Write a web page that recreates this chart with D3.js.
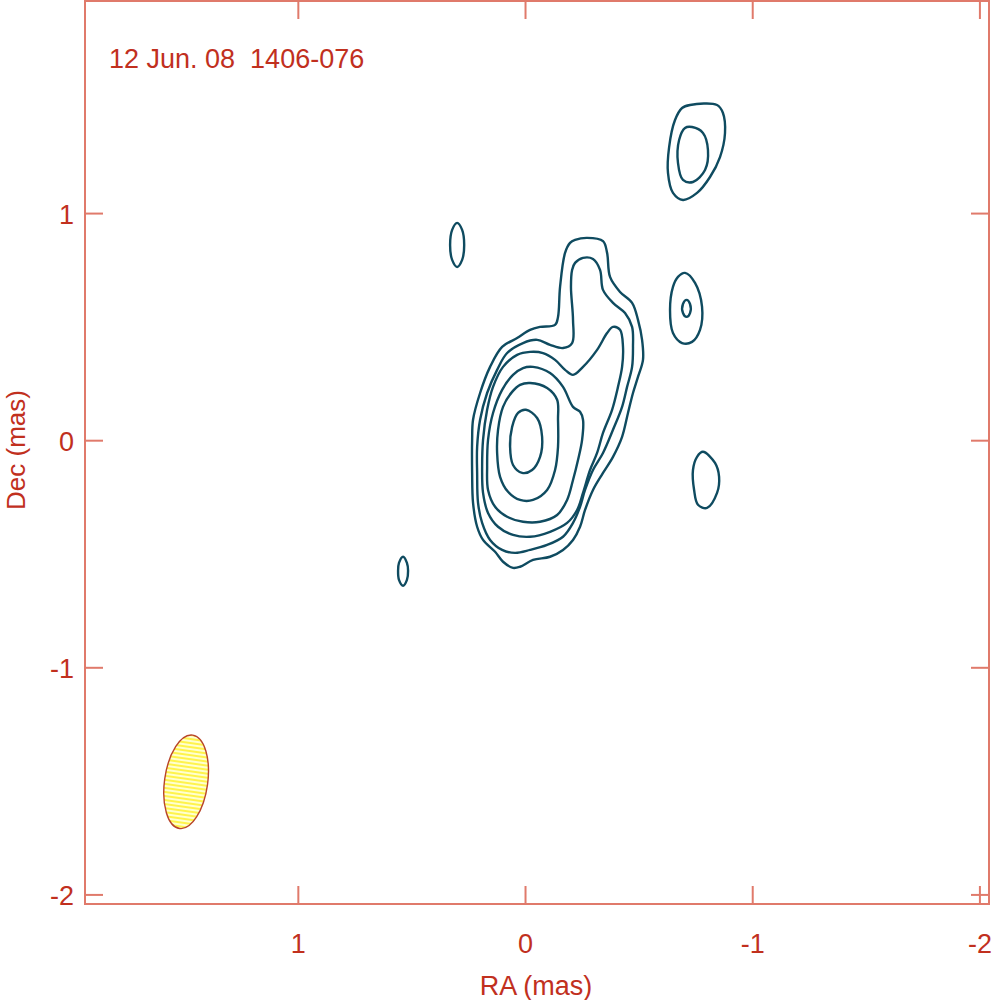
<!DOCTYPE html>
<html>
<head>
<meta charset="utf-8">
<script src="https://cdn.jsdelivr.net/npm/d3@7"></script>
<style>
  body { margin: 0; background: #fff; }
  svg text { font-family: "Liberation Sans", Arial, sans-serif; fill: #c1301e; }
</style>
</head>
<body>
<div id="chart"></div>
<script>
// map title + axes
var title = "12 Jun. 08  1406-076";
var xTicks = [1, 0, -1, -2];
var yTicks = [1, 0, -1, -2];
var xDomain = [1.939, -2.040];   // RA (mas), east to the left
var yDomain = [1.936, -2.040];   // Dec (mas)

// restoring beam: centre RA, Dec, major, minor (mas), PA (deg)
var beam = {ra: 1.494, dec: -1.502, major: 0.415, minor: 0.19, pa: -8};

// contour rings, [RA, Dec] in mas
var core = [
  // lowest level, with the northern extension
  [[-0.218,0.884],[-0.271,0.893],[-0.341,0.879],[-0.359,0.827],[-0.372,0.721],[-0.416,0.655],[-0.469,0.607],
   [-0.495,0.532],[-0.513,0.444],[-0.517,0.356],[-0.495,0.281],[-0.473,0.210],[-0.451,0.122],[-0.425,0.017],
   [-0.385,-0.071],[-0.341,-0.142],[-0.297,-0.217],[-0.262,-0.305],[-0.240,-0.379],[-0.209,-0.437],
   [-0.165,-0.481],[-0.108,-0.511],[-0.033,-0.525],[0.024,-0.555],[0.055,-0.560],[0.099,-0.533],
   [0.134,-0.489],[0.187,-0.437],[0.213,-0.379],[0.231,-0.274],[0.235,-0.142],[0.235,0.004],[0.231,0.092],
   [0.200,0.210],[0.156,0.325],[0.103,0.413],[0.037,0.452],[-0.020,0.488],[-0.064,0.501],[-0.130,0.510],
   [-0.143,0.545],[-0.152,0.677],[-0.174,0.827],[-0.196,0.871]],
  [[-0.218,0.783],[-0.253,0.805],[-0.297,0.800],[-0.328,0.752],[-0.341,0.664],[-0.385,0.607],[-0.438,0.562],
   [-0.469,0.501],[-0.473,0.413],[-0.469,0.325],[-0.447,0.237],[-0.425,0.149],[-0.385,0.048],[-0.341,-0.054],
   [-0.297,-0.129],[-0.262,-0.217],[-0.240,-0.291],[-0.209,-0.362],[-0.165,-0.423],[-0.095,-0.459],
   [-0.020,-0.481],[0.046,-0.494],[0.103,-0.481],[0.156,-0.437],[0.191,-0.362],[0.209,-0.274],[0.213,-0.142],
   [0.213,-0.027],[0.200,0.092],[0.169,0.210],[0.125,0.312],[0.081,0.386],[0.011,0.430],[-0.051,0.444],
   [-0.108,0.422],[-0.165,0.408],[-0.205,0.430],[-0.209,0.532],[-0.200,0.677],[-0.205,0.752]],
  [[-0.385,0.501],[-0.416,0.488],[-0.429,0.413],[-0.425,0.325],[-0.407,0.237],[-0.381,0.136],[-0.341,0.034],
   [-0.315,-0.054],[-0.284,-0.129],[-0.253,-0.230],[-0.227,-0.305],[-0.183,-0.362],[-0.108,-0.401],
   [-0.020,-0.423],[0.055,-0.415],[0.121,-0.379],[0.165,-0.318],[0.187,-0.230],[0.191,-0.115],[0.187,0.004],
   [0.169,0.136],[0.143,0.237],[0.099,0.325],[0.037,0.378],[-0.020,0.391],[-0.077,0.386],[-0.130,0.356],
   [-0.174,0.312],[-0.209,0.290],[-0.253,0.325],[-0.315,0.400],[-0.359,0.474]],
  [[-0.033,0.325],[-0.108,0.298],[-0.165,0.237],[-0.209,0.149],[-0.240,0.127],[-0.253,0.092],[-0.249,0.004],
   [-0.231,-0.085],[-0.209,-0.173],[-0.183,-0.261],[-0.139,-0.327],[-0.064,-0.357],[0.011,-0.357],
   [0.081,-0.335],[0.134,-0.291],[0.165,-0.217],[0.169,-0.115],[0.165,0.004],[0.143,0.122],[0.103,0.224],
   [0.055,0.290],[0.011,0.320]],
  [[-0.020,0.254],[-0.095,0.232],[-0.139,0.180],[-0.143,0.092],[-0.143,-0.027],[-0.130,-0.129],[-0.095,-0.217],
   [-0.033,-0.261],[0.024,-0.261],[0.077,-0.225],[0.112,-0.159],[0.125,-0.054],[0.121,0.048],[0.099,0.149],
   [0.059,0.215],[0.024,0.246]],
  [[-0.002,0.136],[-0.051,0.100],[-0.073,0.017],[-0.064,-0.071],[-0.029,-0.129],[0.015,-0.142],[0.055,-0.107],
   [0.068,-0.027],[0.059,0.061],[0.033,0.122]]
];

var knotNE = [
  [[0.301,0.959],[0.279,0.928],[0.270,0.862],[0.279,0.796],[0.301,0.765],[0.323,0.796],[0.332,0.862],[0.323,0.928]]
];

var knotSE = [
  [[0.539,-0.511],[0.522,-0.538],[0.517,-0.573],[0.522,-0.613],[0.539,-0.639],[0.557,-0.613],[0.561,-0.573],[0.557,-0.538]]
];

var knotNW = [
  [[-0.724,1.478],[-0.843,1.478],[-0.869,1.443],[-0.878,1.355],[-0.856,1.249],[-0.812,1.161],[-0.755,1.091],
   [-0.693,1.060],[-0.649,1.091],[-0.627,1.179],[-0.632,1.293],[-0.658,1.412],[-0.689,1.465]],
  [[-0.733,1.381],[-0.781,1.355],[-0.803,1.280],[-0.790,1.192],[-0.737,1.139],[-0.693,1.148],[-0.671,1.223],
   [-0.676,1.324],[-0.702,1.377]]
];

var knotW = [
  [[-0.702,0.739],[-0.746,0.695],[-0.777,0.589],[-0.768,0.488],[-0.733,0.435],[-0.689,0.430],[-0.649,0.474],
   [-0.636,0.576],[-0.649,0.677],[-0.671,0.721]],
  [[-0.709,0.620],[-0.724,0.602],[-0.724,0.562],[-0.709,0.545],[-0.693,0.562],[-0.693,0.602]]
];

var knotSW = [
  [[-0.781,-0.049],[-0.834,-0.098],[-0.852,-0.159],[-0.843,-0.230],[-0.799,-0.296],[-0.759,-0.282],
   [-0.742,-0.217],[-0.737,-0.129],[-0.755,-0.071]]
];

var W = 992, H = 1000;
var margin = {top: 1, right: 3, bottom: 96, left: 85};

var svg = d3.select("#chart").append("svg")
    .attr("width", W)
    .attr("height", H);

var x = d3.scaleLinear().domain(xDomain).range([margin.left, W - margin.right]);
var y = d3.scaleLinear().domain(yDomain).range([margin.top, H - margin.bottom]);

var frameColor = "#e07a6b";
var tickLen = 18;
var fontSize = "27px";

// hatch pattern for the beam
var defs = svg.append("defs");
var pat = defs.append("pattern")
    .attr("id", "hatch")
    .attr("patternUnits", "userSpaceOnUse")
    .attr("width", 6).attr("height", 4);
pat.append("rect").attr("width", 6).attr("height", 4).attr("fill", "#ffffd0");
pat.append("line").attr("x1", 0).attr("x2", 6).attr("y1", 1).attr("y2", 1)
    .attr("stroke", "#fff23c").attr("stroke-width", 1.8);

// contours
var line = d3.line()
    .x(function(d) { return x(d[0]); })
    .y(function(d) { return y(d[1]); })
    .curve(d3.curveCatmullRomClosed.alpha(0.5));

var rings = [].concat(core, knotNE, knotSE, knotNW, knotW, knotSW);
svg.append("g")
  .selectAll("path")
    .data(rings)
    .enter()
    .append("path")
    .attr("d", line)
    .attr("fill", "none")
    .attr("stroke", "#0f4b60")
    .attr("stroke-width", 2.4)
    .attr("stroke-linejoin", "round");

// beam
var bx = Math.abs(x(beam.minor / 2) - x(0)),
    by = Math.abs(y(beam.major / 2) - y(0));
svg.append("ellipse")
    .attr("transform", "translate(" + x(beam.ra) + "," + y(beam.dec) + ") rotate(" + (-beam.pa) + ")")
    .attr("rx", bx)
    .attr("ry", by)
    .attr("fill", "url(#hatch)")
    .attr("stroke", "#b8442a")
    .attr("stroke-width", 1.4);

// frame
var x0 = x.range()[0], x1 = x.range()[1], y0 = y.range()[0], y1 = y.range()[1];
svg.append("rect")
    .attr("x", x0).attr("y", y0)
    .attr("width", x1 - x0).attr("height", y1 - y0)
    .attr("fill", "none")
    .attr("stroke", frameColor)
    .attr("stroke-width", 2);

var ticks = svg.append("g").attr("stroke", frameColor).attr("stroke-width", 2);
xTicks.forEach(function(t) {
  ticks.append("line").attr("x1", x(t)).attr("x2", x(t)).attr("y1", y1).attr("y2", y1 - tickLen);
  ticks.append("line").attr("x1", x(t)).attr("x2", x(t)).attr("y1", y0).attr("y2", y0 + tickLen);
});
yTicks.forEach(function(t) {
  ticks.append("line").attr("x1", x0).attr("x2", x0 + tickLen).attr("y1", y(t)).attr("y2", y(t));
  ticks.append("line").attr("x1", x1).attr("x2", x1 - tickLen).attr("y1", y(t)).attr("y2", y(t));
});

// tick labels
svg.append("g")
  .selectAll("text")
    .data(xTicks)
    .enter()
    .append("text")
    .attr("x", function(d) { return x(d); })
    .attr("y", 953)
    .attr("text-anchor", "middle")
    .attr("font-size", fontSize)
    .text(function(d) { return d; });

svg.append("g")
  .selectAll("text")
    .data(yTicks)
    .enter()
    .append("text")
    .attr("x", 74)
    .attr("y", function(d) { return y(d) + 10; })
    .attr("text-anchor", "end")
    .attr("font-size", fontSize)
    .text(function(d) { return d; });

// axis titles
svg.append("text")
    .attr("x", 536).attr("y", 995)
    .attr("text-anchor", "middle")
    .attr("font-size", fontSize)
    .text("RA (mas)");

svg.append("text")
    .attr("transform", "translate(25," + 450 + ") rotate(-90)")
    .attr("text-anchor", "middle")
    .attr("font-size", "26px")
    .text("Dec (mas)");

svg.append("text")
    .attr("x", 109).attr("y", 68)
    .attr("font-size", fontSize)
    .style("white-space", "pre")
    .text(title);
</script>
</body>
</html>
